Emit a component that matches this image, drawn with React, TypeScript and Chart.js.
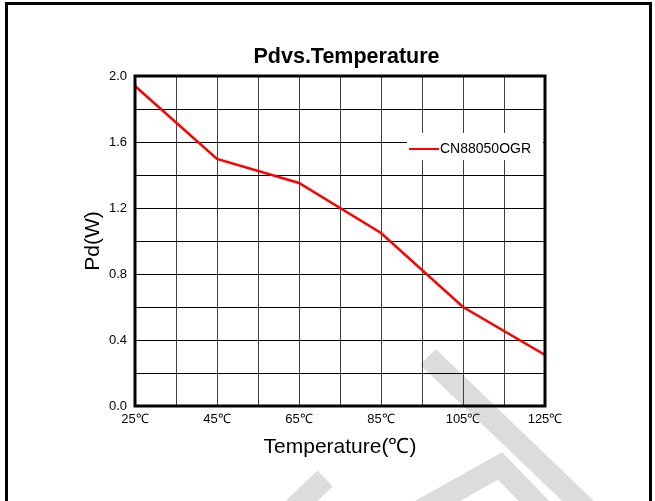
import React, { useEffect, useRef } from 'react';
import { Chart, registerables } from 'chart.js';

Chart.register(...registerables);

const chartTitle = 'Pdvs.Temperature';
const xAxisTitle = 'Temperature(℃)';
const yAxisTitle = 'Pd(W)';
const seriesName = 'CN88050OGR';

const temperatures = [25, 45, 65, 85, 105, 125];
const pdValues = [1.94, 1.5, 1.35, 1.05, 0.6, 0.31];

const xGridTicks = [25, 35, 45, 55, 65, 75, 85, 95, 105, 115, 125];
const xLabelTicks = [25, 45, 65, 85, 105, 125];
const yGridTicks = [0, 0.2, 0.4, 0.6, 0.8, 1.0, 1.2, 1.4, 1.6, 1.8, 2.0];
const yLabelTicks = [0, 0.4, 0.8, 1.2, 1.6, 2.0];

const FONT = '"Liberation Sans", Arial, Helvetica, sans-serif';

const backgroundPlugin = {
  id: 'backgroundDecor',
  beforeDraw(chart: any) {
    const ctx = chart.ctx;
    ctx.save();
    ctx.fillStyle = '#ffffff';
    ctx.fillRect(0, 0, chart.width, chart.height);
    // faint watermark
    ctx.strokeStyle = '#dcdcdc';
    ctx.lineWidth = 22;
    ctx.lineCap = 'butt';
    ctx.lineJoin = 'miter';
    ctx.beginPath();
    ctx.moveTo(428, 357);
    ctx.lineTo(600, 522);
    ctx.stroke();
    ctx.beginPath();
    ctx.moveTo(325, 478.5);
    ctx.lineTo(290, 512);
    ctx.stroke();
    ctx.beginPath();
    ctx.moveTo(400, 522);
    ctx.lineTo(500, 466);
    ctx.lineTo(562, 530);
    ctx.stroke();
    // page frame
    ctx.fillStyle = '#000000';
    ctx.fillRect(5, 2, 3, chart.height);
    ctx.fillRect(5, 2, 647, 3);
    ctx.fillRect(649, 2, 3, chart.height);
    ctx.restore();
  },
};

const frameLegendPlugin = {
  id: 'frameLegend',
  afterDatasetsDraw(chart: any) {
    const { ctx, chartArea: ca } = chart;
    ctx.save();
    ctx.strokeStyle = '#000000';
    ctx.lineWidth = 3;
    ctx.strokeRect(ca.left, ca.top, ca.right - ca.left, ca.bottom - ca.top);

    const ds = chart.data.datasets[0];
    const boxW = 136;
    const boxH = 27;
    const boxRight = ca.right - 2;
    const boxLeft = boxRight - boxW;
    const boxTop = ca.top + 57;
    ctx.fillStyle = '#ffffff';
    ctx.fillRect(boxLeft, boxTop, boxW, boxH);
    const yMid = boxTop + 16;
    ctx.strokeStyle = ds.borderColor;
    ctx.lineWidth = 2;
    ctx.beginPath();
    ctx.moveTo(boxLeft + 2, yMid);
    ctx.lineTo(boxLeft + 32, yMid);
    ctx.stroke();
    ctx.fillStyle = '#000000';
    ctx.font = `14px ${FONT}`;
    ctx.textBaseline = 'middle';
    ctx.textAlign = 'left';
    ctx.fillText(ds.label, boxLeft + 33, yMid);

    // chart title
    ctx.font = `bold 21.5px ${FONT}`;
    ctx.textAlign = 'center';
    ctx.textBaseline = 'middle';
    ctx.fillText(chartTitle, (ca.left + ca.right) / 2 + 6.5, ca.top - 19);
    ctx.restore();
  },
};

export default function App() {
  const canvasRef = useRef<HTMLCanvasElement>(null);

  useEffect(() => {
    const canvas = canvasRef.current;
    if (!canvas) return;
    const chart = new Chart(canvas, {
      type: 'line',
      data: {
        datasets: [
          {
            label: seriesName,
            data: temperatures.map((t, i) => ({ x: t, y: pdValues[i] })),
            borderColor: '#ff0000',
            backgroundColor: '#ff0000',
            borderWidth: 2.5,
            pointRadius: 0,
            tension: 0,
            fill: false,
          },
        ],
      },
      options: {
        animation: false,
        responsive: false,
        devicePixelRatio: 1,
        layout: { padding: { top: 76, left: 81, right: 110, bottom: 41 } },
        plugins: {
          legend: { display: false },
          tooltip: { enabled: false },
          title: { display: false },
        },
        scales: {
          x: {
            type: 'linear',
            min: 25,
            max: 125,
            alignToPixels: true,
            afterBuildTicks: (scale: any) => {
              scale.ticks = xGridTicks.map((v) => ({ value: v }));
            },
            afterFit: (scale: any) => {
              scale.height = 54;
            },
            border: { display: false },
            grid: { color: '#404040', lineWidth: 1, drawTicks: false },
            ticks: {
              autoSkip: false,
              maxRotation: 0,
              padding: 6,
              color: '#000000',
              font: { family: FONT, size: 13 },
              callback: (value: any) => (xLabelTicks.includes(Number(value)) ? `${value}℃` : ''),
            },
            title: {
              display: true,
              text: xAxisTitle,
              color: '#000000',
              font: { family: FONT, size: 21, lineHeight: 1.2 },
              padding: { top: 0, bottom: 0 },
            },
          },
          y: {
            type: 'linear',
            min: 0,
            max: 2,
            alignToPixels: true,
            afterBuildTicks: (scale: any) => {
              scale.ticks = yGridTicks.map((v) => ({ value: v }));
            },
            afterFit: (scale: any) => {
              scale.width = 54;
            },
            border: { display: false },
            grid: { color: '#000000', lineWidth: 1, drawTicks: false },
            ticks: {
              autoSkip: false,
              padding: 8,
              color: '#000000',
              font: { family: FONT, size: 13 },
              callback: (value: any) =>
                yLabelTicks.some((v) => Math.abs(v - Number(value)) < 1e-9) ? Number(value).toFixed(1) : '',
            },
            title: {
              display: true,
              text: yAxisTitle,
              color: '#000000',
              font: { family: FONT, size: 21, lineHeight: 1.2 },
              padding: { top: 0, bottom: 0 },
            },
          },
        },
      },
      plugins: [backgroundPlugin, frameLegendPlugin],
    } as any);
    return () => chart.destroy();
  }, []);

  return (
    <div style={{ position: 'absolute', left: 0, top: 0, width: 655, height: 501, background: '#ffffff' }}>
      <canvas ref={canvasRef} width={655} height={501} style={{ display: 'block', width: 655, height: 501 }} />
    </div>
  );
}
